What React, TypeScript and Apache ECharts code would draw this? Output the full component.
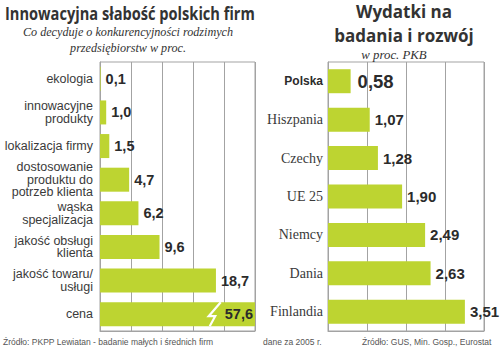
import React, { useEffect, useRef } from "react";
import * as echarts from "echarts";

const leftCategories = [
  "ekologia",
  "innowacyjne\nprodukty",
  "lokalizacja firmy",
  "dostosowanie\nproduktu do\npotrzeb klienta",
  "wąska\nspecjalizacja",
  "jakość obsługi\nklienta",
  "jakość towaru/\nusługi",
  "cena",
];
const leftValues = [0.1, 1.0, 1.5, 4.7, 6.2, 9.6, 18.7, 57.6];
const LEFT_MAX = 25;
const LEFT_INTERVAL = 5;
const BREAK_AT = 18.5;

const rightCategories = ["Polska", "Hiszpania", "Czechy", "UE 25", "Niemcy", "Dania", "Finlandia"];
const rightValues = [0.58, 1.07, 1.28, 1.9, 2.49, 2.63, 3.51];
const RIGHT_MAX = 4;
const RIGHT_INTERVAL = 1;

const leftTitle = "Innowacyjna słabość polskich firm";
const leftSubtitle = ["Co decyduje o konkurencyjności rodzimych", "przedsiębiorstw w proc."];
const rightTitle = ["Wydatki na", "badania i rozwój"];
const rightSubtitle = "w proc. PKB";
const footLeft = "Źródło: PKPP Lewiatan - badanie małych i średnich firm";
const footMid = "dane za 2005 r.";
const footRight = "Źródło: GUS, Min. Gosp., Eurostat";

const BAR = "#bdd431";
const GRIDC = "#a3a3a3";
const DARK = "#2b2b2b";

const fmt = (v: number, d: number) => v.toFixed(d).replace(".", ",");

export default function App() {
  const ref = useRef<HTMLDivElement>(null);
  useEffect(() => {
    if (!ref.current) return;
    const chart = echarts.init(ref.current, null, { renderer: "svg" });
    const valueAxisBase = {
      type: "value" as const,
      min: 0,
      axisLabel: { show: false },
      axisTick: { show: false },
      axisLine: { show: true, lineStyle: { color: GRIDC, width: 1 } },
      splitLine: { show: true, lineStyle: { color: GRIDC, width: 1 } },
    };
    const option: any = {
      animation: false,
      backgroundColor: "#ffffff",
      grid: [
        { left: 100, top: 62, width: 155, height: 269, show: true, borderColor: GRIDC, borderWidth: 1 },
        { left: 328, top: 62, width: 156, height: 269, show: true, borderColor: GRIDC, borderWidth: 1 },
      ],
      xAxis: [
        { ...valueAxisBase, gridIndex: 0, max: LEFT_MAX, interval: LEFT_INTERVAL },
        { ...valueAxisBase, gridIndex: 1, max: RIGHT_MAX, interval: RIGHT_INTERVAL },
      ],
      yAxis: [
        {
          type: "category",
          gridIndex: 0,
          inverse: true,
          data: leftCategories,
          axisTick: { show: false },
          axisLine: { show: true, lineStyle: { color: GRIDC } },
          axisLabel: {
            margin: 7,
            color: "#3a3a3a",
            fontFamily: "Liberation Sans",
            fontSize: 12.5,
            lineHeight: 12.5,
            align: "right",
            interval: 0,
          },
        },
        {
          type: "category",
          gridIndex: 1,
          inverse: true,
          data: rightCategories,
          axisTick: { show: false },
          axisLine: { show: true, lineStyle: { color: GRIDC } },
          axisLabel: {
            margin: 5,
            interval: 0,
            formatter: (v: string, i: number) => (i === 0 ? `{b|${v}}` : `{n|${v}}`),
            rich: {
              b: { fontFamily: "Liberation Sans", fontWeight: "bold", fontSize: 12, color: "#2b2b2b" },
              n: { fontFamily: "Liberation Serif", fontSize: 14, color: "#3a3a3a" },
            },
          },
        },
      ],
      series: [
        {
          type: "bar",
          xAxisIndex: 0,
          yAxisIndex: 0,
          barWidth: 24,
          itemStyle: { color: BAR },
          data: leftValues.map((v) => {
            const over = v > LEFT_MAX;
            return {
              value: Math.min(v, LEFT_MAX),
              label: over ? { position: "insideRight", distance: 2 } : undefined,
            };
          }),
          label: {
            show: true,
            position: "right",
            distance: 5,
            color: DARK,
            fontFamily: "Liberation Sans",
            fontWeight: "bold",
            fontSize: 14.5,
            formatter: (p: any) => fmt(leftValues[p.dataIndex], 1),
          },
        },
        {
          type: "bar",
          xAxisIndex: 1,
          yAxisIndex: 1,
          barWidth: 24,
          itemStyle: { color: BAR },
          data: rightValues.map((v, i) => ({
            value: v,
            label: i === 0 ? { fontSize: 18.5, distance: 7 } : undefined,
          })),
          label: {
            show: true,
            position: "right",
            distance: 5,
            color: DARK,
            fontFamily: "Liberation Sans",
            fontWeight: "bold",
            fontSize: 15,
            formatter: (p: any) => fmt(rightValues[p.dataIndex], 2),
          },
        },
      ],
    };
    chart.setOption(option);

    const bi = leftValues.findIndex((v) => v > LEFT_MAX);
    const graphics: any[] = [
      {
        type: "text",
        x: 5,
        y: 14,
        scaleX: 0.86,
        style: { text: leftTitle, font: 'bold 17px "Open Sans"', lineHeight: 18, fill: "#333333", align: "left", verticalAlign: "middle" },
      },
      {
        type: "text",
        x: 128,
        y: 32,
        scaleX: 0.9,
        style: { text: leftSubtitle[0], font: 'italic 13.5px "Liberation Serif"', lineHeight: 14, fill: "#333333", align: "center", verticalAlign: "middle" },
      },
      {
        type: "text",
        x: 128,
        y: 48,
        scaleX: 0.9,
        style: { text: leftSubtitle[1], font: 'italic 13.5px "Liberation Serif"', lineHeight: 14, fill: "#333333", align: "center", verticalAlign: "middle" },
      },
      {
        type: "text",
        x: 404,
        y: 23.5,
        style: {
          text: rightTitle.join("\n"),
          font: 'bold 17px "Open Sans"',
          lineHeight: 23.5,
          fill: "#333333",
          align: "center",
          verticalAlign: "middle",
        },
      },
      {
        type: "text",
        x: 394,
        y: 54,
        scaleX: 0.95,
        style: { text: rightSubtitle, font: 'italic 13.5px "Liberation Serif"', lineHeight: 14, fill: "#333333", align: "center", verticalAlign: "middle" },
      },
      {
        type: "text",
        x: 3,
        y: 342,
        style: { text: footLeft, font: '8.5px "Liberation Sans"', fill: "#555555", align: "left", verticalAlign: "middle" },
      },
      {
        type: "text",
        x: 263,
        y: 342,
        style: { text: footMid, font: '8.5px "Liberation Sans"', fill: "#555555", align: "left", verticalAlign: "middle" },
      },
      {
        type: "text",
        x: 362,
        y: 342,
        style: { text: footRight, font: '8.5px "Liberation Sans"', fill: "#555555", align: "left", verticalAlign: "middle" },
      },
    ];
    if (bi >= 0) {
      const p = chart.convertToPixel({ gridIndex: 0 } as any, [BREAK_AT, bi]) as number[];
      const [cx, cy] = p;
      graphics.push({
        type: "polyline",
        shape: {
          points: [
            [cx + 6, cy - 12],
            [cx - 6, cy + 2],
            [cx + 0.5, cy + 2],
            [cx - 5, cy + 12],
          ],
        },
        style: { stroke: "#ffffff", lineWidth: 2.2, fill: null },
        z: 100,
      });
    }
    chart.setOption({ graphic: graphics });
    return () => chart.dispose();
  }, []);
  return <div ref={ref} style={{ position: "fixed", left: 0, top: 0, width: 500, height: 354 }} />;
}
